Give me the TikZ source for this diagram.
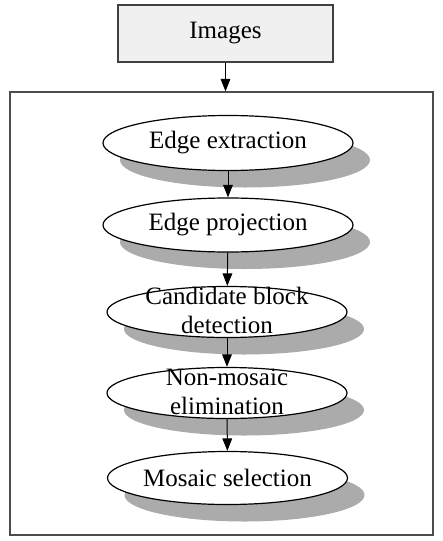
\documentclass[tikz,border=0pt]{standalone}
\usepackage{fontspec}
\setmainfont{Liberation Serif}
\usetikzlibrary{positioning,shapes,shadows,arrows.meta}
\tikzset{>={Triangle[width=1.7mm,length=2.2mm]}}
\newcommand{\stacktext}[2]{\smash{\makebox[0pt]{\raisebox{-3.5pt}{\begin{tabular}{@{}c@{}}#1\\[0.5pt]#2\end{tabular}}}}}

\begin{document}
\begin{tikzpicture}[x=0.5pt,y=-0.5pt]
          \tikzstyle{inode} = [draw=black!75, fill=black!6, rectangle, line width=0.6pt, minimum width=107.5pt, minimum height=28.5pt, inner sep=0pt, font=\fontsize{12.5}{14}\selectfont]
          \tikzstyle{enode} = [draw, fill=white, ellipse, line width=0.6pt, minimum width=120pt, minimum height=25.5pt, inner sep=0pt, align=center, font=\fontsize{12.5}{14}\selectfont,
                               drop shadow={shadow xshift=8.5pt, shadow yshift=-8.5pt, fill=black!33, opacity=1}]
          \useasboundingbox (0,0) rectangle (443,541);
          \node[inode] (img) at (225.5,33.5) {Images};
          \node[draw=black!70, line width=0.6pt, minimum width=211.5pt, minimum height=221.5pt, inner sep=0pt] (frame) at (221.5,313.5) {};

          \node[enode, minimum width=125pt, minimum height=27.5pt] (extr) at (228,143) {Edge extraction};
          \node[enode, minimum width=125pt, minimum height=27pt] (proj) at (228,225) {Edge projection};
          \node[enode] (cand) at (227,312) {\stacktext{Candidate block}{detection}};
          \node[enode] (elim) at (227,393) {\stacktext{Non-mosaic}{elimination}};
          \node[enode, minimum height=26.5pt] (mosa) at (227.5,478) {Mosaic selection};

          \draw[->,line width=0.5pt] (img.south) -- (img.south |- frame.north);
          \draw[->,line width=0.5pt] (extr) -- (proj);
          \draw[->,line width=0.5pt] (proj) -- (cand);
          \draw[->,line width=0.5pt] (cand) -- (elim);
          \draw[->,line width=0.5pt] (elim) -- (mosa);
        \end{tikzpicture}
\end{document}
